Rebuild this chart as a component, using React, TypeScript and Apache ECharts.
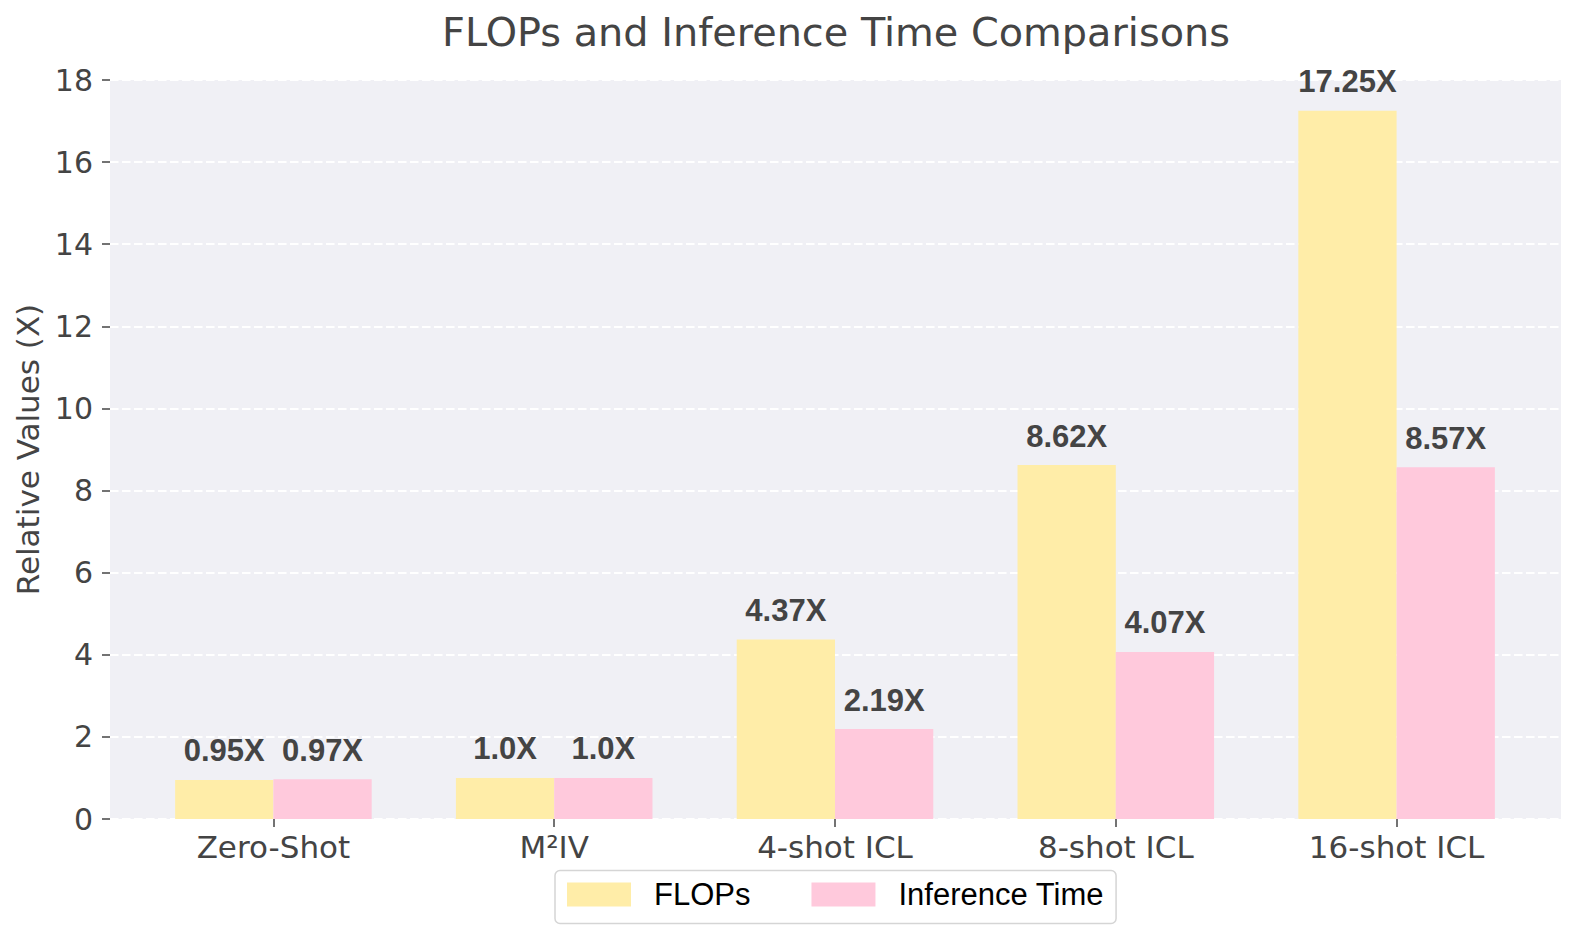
import { useEffect, useRef } from "react";
import * as echarts from "echarts";

const categories = ["Zero-Shot", "M²IV", "4-shot ICL", "8-shot ICL", "16-shot ICL"];
const flops = [0.95, 1.0, 4.37, 8.62, 17.25];
const inferenceTime = [0.97, 1.0, 2.19, 4.07, 8.57];

const TEXT = "#444444";
const SANS = "DejaVu Sans";
const ARIAL = "Liberation Sans";

const labelStyle = {
  show: true,
  position: "top" as const,
  distance: 13.5,
  fontFamily: ARIAL,
  fontWeight: "bold" as const,
  fontSize: 31,
  color: TEXT,
  formatter: (p: any) => `${Number.isInteger(p.value) ? p.value.toFixed(1) : p.value}X`,
};

const App = () => {
  const chartRef = useRef<HTMLDivElement>(null);

  useEffect(() => {
    if (!chartRef.current) return;
    document.body.style.margin = "0";
    const chart = echarts.init(chartRef.current, null, { renderer: "svg" });

    const yAxisBase = { type: "value" as const, min: 0, max: 18, interval: 2 };

    chart.setOption({
      animation: false,
      backgroundColor: "#fff",
      title: {
        text: "FLOPs and Inference Time Comparisons",
        left: 831,
        top: 7,
        textAlign: "center",
        textStyle: { fontFamily: SANS, fontWeight: "normal", fontSize: 39.8, color: TEXT },
      },
      legend: {
        data: ["FLOPs", "Inference Time"],
        left: 555,
        top: 870.5,
        padding: [8.5, 12, 13.5, 12],
        icon: "rect",
        itemWidth: 64,
        itemHeight: 24,
        itemGap: 61,
        borderColor: "#d5d5d5",
        borderWidth: 1.5,
        borderRadius: 5,
        textStyle: { fontFamily: ARIAL, fontSize: 31, color: "#000", padding: [0, 0, 0, 18] },
      },
      // first grid carries the backdrop and y axis, the second one the bars
      grid: [
        { left: 110, right: 16, top: 80, height: 739, show: true, backgroundColor: "#f0f0f5", borderWidth: 0 },
        { left: 133, width: 1404, top: 80, height: 739 },
      ],
      xAxis: [
        { type: "category", gridIndex: 0, data: categories, show: false },
        {
          type: "category",
          gridIndex: 1,
          data: categories,
          axisLine: { show: false },
          axisTick: { show: true, alignWithLabel: true, length: 8, lineStyle: { color: TEXT, width: 1.5 } },
          axisLabel: { fontFamily: SANS, fontSize: 31, color: TEXT, margin: 12 },
        },
      ],
      yAxis: [
        {
          ...yAxisBase,
          gridIndex: 0,
          name: "Relative Values (X)",
          nameLocation: "middle",
          nameGap: 64,
          nameTextStyle: { fontFamily: SANS, fontSize: 31, color: TEXT },
          axisLine: { show: false },
          axisTick: { show: true, length: 8, lineStyle: { color: TEXT, width: 1.5 } },
          axisLabel: { fontFamily: SANS, fontSize: 30, color: TEXT, margin: 17 },
          splitLine: { show: true, lineStyle: { color: "#ffffff", type: [8.5, 3.5], width: 2 } },
        },
        { ...yAxisBase, gridIndex: 1, show: false },
      ],
      series: [
        {
          name: "FLOPs",
          type: "bar",
          xAxisIndex: 1,
          yAxisIndex: 1,
          data: flops,
          barWidth: "35%",
          barGap: 0,
          itemStyle: { color: "#ffeda8" },
          label: labelStyle,
        },
        {
          name: "Inference Time",
          type: "bar",
          xAxisIndex: 1,
          yAxisIndex: 1,
          data: inferenceTime,
          barWidth: "35%",
          barGap: 0,
          itemStyle: { color: "#ffc9dc" },
          label: labelStyle,
        },
      ],
    });

    return () => {
      chart.dispose();
    };
  }, []);

  return <div ref={chartRef} style={{ width: 1577, height: 940 }} />;
};

export default App;
